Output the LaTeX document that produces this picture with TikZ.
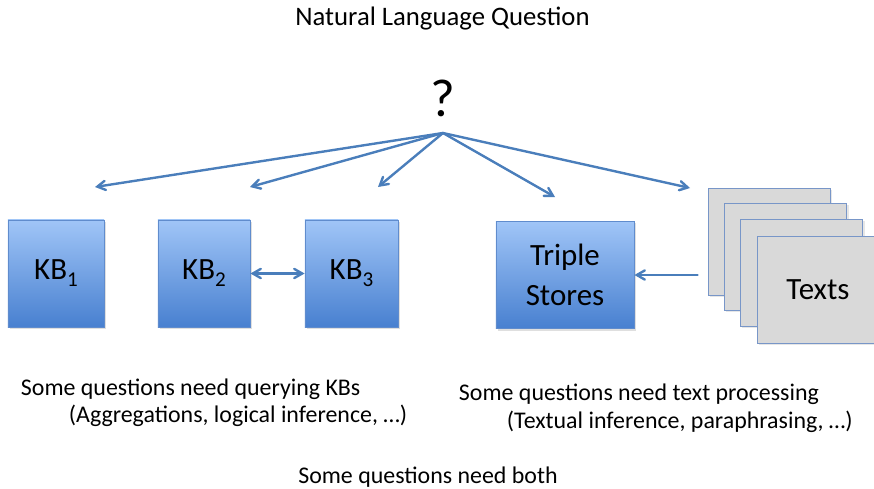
\documentclass[tikz,border=0pt]{standalone}
\usepackage{fontspec}
\setmainfont{Carlito}
\usetikzlibrary{%
  arrows,%
  shadows,%
  positioning% wg. " of "
}
\definecolor{linkblue}{RGB}{74,126,187}
\definecolor{kbtop}{RGB}{160,197,247}
\definecolor{kbbottom}{RGB}{72,128,208}
\definecolor{kbline}{RGB}{96,140,205}
\definecolor{cardfill}{RGB}{217,217,217}
\definecolor{cardline}{RGB}{120,150,200}
\newcommand{\kbsub}[1]{\lower5pt\hbox{\fontsize{15}{17}\selectfont #1}}

\begin{document}
\begin{tikzpicture}[
  x=0.025cm, y=-0.025cm,
  font=\fontsize{17}{21}\selectfont, >=angle 60, line cap=round,
  kb/.style={rectangle, draw=kbline, line width=0.6pt, top color=kbtop, bottom color=kbbottom,
    minimum height=2.675cm, inner sep=0pt, font=\fontsize{22}{28}\selectfont,
    drop shadow={opacity=0.25, shadow xshift=0.5mm, shadow yshift=-0.5mm}},
  card/.style={rectangle, draw=cardline, line width=0.6pt, fill=cardfill,
    minimum width=3.05cm, minimum height=2.675cm, inner sep=0pt, font=\fontsize{22}{26}\selectfont,
    drop shadow={opacity=0.2, shadow xshift=0.5mm, shadow yshift=-0.5mm}},
  link/.style={draw=linkblue, line width=1.7pt}
]
\useasboundingbox (0,0) rectangle (874,488);

\node[anchor=base, font=\fontsize{19}{23}\selectfont] (title) at (442.5,25) {Natural Language Question};
\node[font=\fontsize{38}{42}\selectfont] (quest) at (443,98) {?};
\coordinate (fan) at (443,133);

\coordinate (t1) at (95,187);
\coordinate (t2) at (250,187);
\coordinate (t3) at (378,187);
\coordinate (t4) at (555,197);
\coordinate (t5) at (690,188);

\node[kb, minimum width=2.4cm] (kb1) at (56,273.5) {KB\kbsub{1}};
\node[kb, minimum width=2.3cm] (kb2) at (204,273.5) {KB\kbsub{2}};
\node[kb, minimum width=2.325cm] (kb3) at (351.5,273.5) {KB\kbsub{3}};
\node[kb, minimum width=3.45cm, align=center] (store) at (565,275) {Triple\\Stores};

\node[card] (text1) at (769,241.5) {};
  \node[card] (text2) at (785.5,256.5) {};
    \node[card] (text3) at (801.5,272.5) {};
      \node[card] (text4) at (818,289.5) {Texts};

\draw[link,->] (fan) -- (t1);
\draw[link,->] (fan) -- (t2);
\draw[link,->] (fan) -- (t3);
\draw[link,->] (fan) -- (t4);
\draw[link,->] (fan) -- (t5);

\draw[link,<->] (kb2) -- (kb3);
\draw[link,->] (text1.west |- store.east) ++(-10,0) coordinate (tin) (tin) -- (store.east);

\node[anchor=base west] (kbq) at (16,395) {Some questions need querying KBs};
\node[anchor=base west] (kbq2) at (64,422) {(Aggregations, logical inference, \dots)};
\node[anchor=base west] (txq) at (454,400) {Some questions need text processing};
\node[anchor=base west] (txq2) at (502,428) {(Textual inference, paraphrasing, \dots)};
\node[anchor=base] (both) at (428,483) {Some questions need both};
\end{tikzpicture}
\end{document}
